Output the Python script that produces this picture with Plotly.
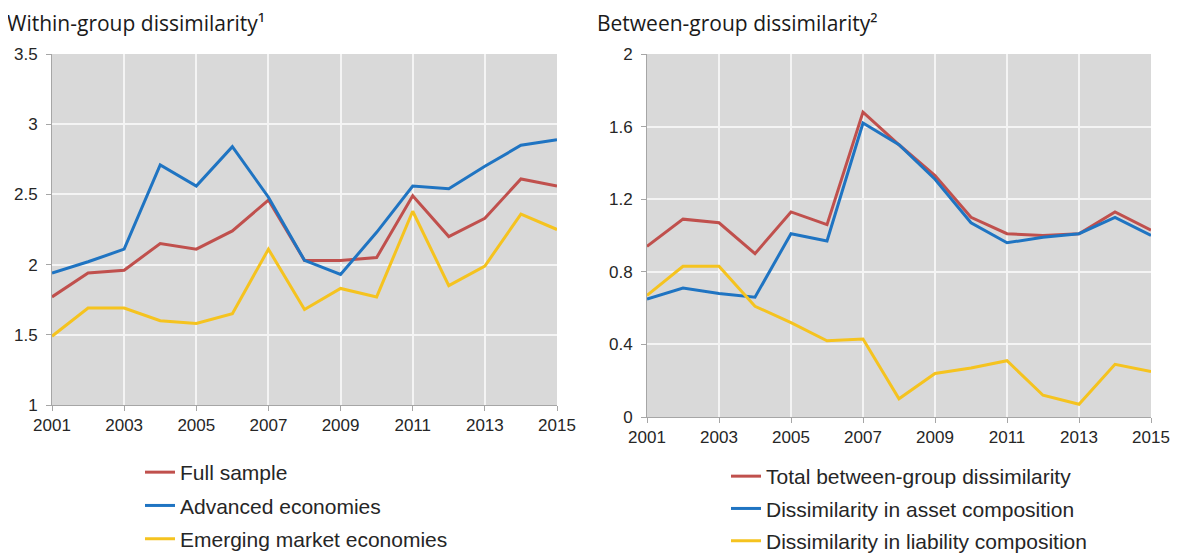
import plotly.graph_objects as go

years = list(range(2001, 2016))

# within-group dissimilarity
full_sample = [1.77, 1.94, 1.96, 2.15, 2.11, 2.24, 2.46, 2.03, 2.03, 2.05, 2.49, 2.20, 2.33, 2.61, 2.56]
advanced = [1.94, 2.02, 2.11, 2.71, 2.56, 2.84, 2.48, 2.03, 1.93, 2.23, 2.56, 2.54, 2.70, 2.85, 2.89]
emerging = [1.49, 1.69, 1.69, 1.60, 1.58, 1.65, 2.11, 1.68, 1.83, 1.77, 2.38, 1.85, 1.99, 2.36, 2.25]

# between-group dissimilarity
total_between = [0.94, 1.09, 1.07, 0.90, 1.13, 1.06, 1.68, 1.50, 1.33, 1.10, 1.01, 1.00, 1.01, 1.13, 1.03]
asset_comp = [0.65, 0.71, 0.68, 0.66, 1.01, 0.97, 1.62, 1.50, 1.31, 1.07, 0.96, 0.99, 1.01, 1.10, 1.00]
liability_comp = [0.67, 0.83, 0.83, 0.61, 0.52, 0.42, 0.43, 0.10, 0.24, 0.27, 0.31, 0.12, 0.07, 0.29, 0.25]

left_names = ["Full sample", "Advanced economies", "Emerging market economies"]
right_names = ["Total between-group dissimilarity", "Dissimilarity in asset composition",
               "Dissimilarity in liability composition"]
colors = ["#c0504d", "#1f74c2", "#f5c31f"]

# page body has an 8px margin, so the figure sits 8px in from the window edge.
# figure is a bit taller than the window so the legends don't push the margins
W, H = 1165, 570
OFF = 8


def px(x):
    return (x - OFF) / W


def py(y):
    return 1 - (y - OFF) / H


fig = go.Figure()

for i, (vals, name) in enumerate(zip([full_sample, advanced, emerging], left_names)):
    fig.add_trace(go.Scatter(x=years, y=vals, name=name, mode="lines",
                             line=dict(color=colors[i], width=3),
                             xaxis="x", yaxis="y", legend="legend",
                             legendgroup="l%d" % i))

for i, (vals, name) in enumerate(zip([total_between, asset_comp, liability_comp], right_names)):
    fig.add_trace(go.Scatter(x=years, y=vals, name=name, mode="lines",
                             line=dict(color=colors[i], width=3),
                             xaxis="x2", yaxis="y2", legend="legend2",
                             legendgroup="r%d" % i))

tick_font = dict(family="Liberation Sans, Arial", size=17, color="#262626")
axis_common = dict(showgrid=True, gridcolor="#f4f4f4", gridwidth=1.5,
                   showline=True, linecolor="#a6a6a6", linewidth=1,
                   ticks="outside", ticklen=5, tickcolor="#a6a6a6",
                   tickfont=tick_font, zeroline=False, fixedrange=True,
                   automargin=False)
legend_font = dict(family="Liberation Sans, Arial", size=21, color="#262626")
title_font = dict(family="Open Sans", size=21, color="#1a1a1a")

fig.update_layout(
    width=W, height=H,
    margin=dict(l=0, r=0, t=0, b=0, pad=0),
    paper_bgcolor="white",
    plot_bgcolor="#d9d9d9",
    showlegend=True,
    xaxis=dict(domain=[px(52), px(557)], range=[2001, 2015], tick0=2001, dtick=2,
               anchor="y", **axis_common),
    yaxis=dict(domain=[py(405), py(54)], range=[1, 3.5], dtick=0.5,
               anchor="x", ticklabelstandoff=5, **axis_common),
    xaxis2=dict(domain=[px(647), px(1151)], range=[2001, 2015], tick0=2001, dtick=2,
                anchor="y2", **axis_common),
    yaxis2=dict(domain=[py(417), py(54)], range=[0, 2], dtick=0.4,
                tickformat=".1~f", anchor="x2", ticklabelstandoff=5, **axis_common),
    legend=dict(x=px(140), y=py(452), xanchor="left", yanchor="top",
                font=legend_font, tracegroupgap=3, bgcolor="rgba(0,0,0,0)"),
    legend2=dict(x=px(726), y=py(456), xanchor="left", yanchor="top",
                 font=legend_font, tracegroupgap=2, bgcolor="rgba(0,0,0,0)"),
    annotations=[
        dict(text="Within-group dissimilarity¹", x=px(6), y=1,
             xref="paper", yref="paper", xanchor="left", yanchor="top", showarrow=False,
             borderpad=0, font=title_font),
        dict(text="Between-group dissimilarity²", x=px(596), y=1,
             xref="paper", yref="paper", xanchor="left", yanchor="top", showarrow=False,
             borderpad=0, font=title_font),
    ],
)

fig.write_html("out.html")
